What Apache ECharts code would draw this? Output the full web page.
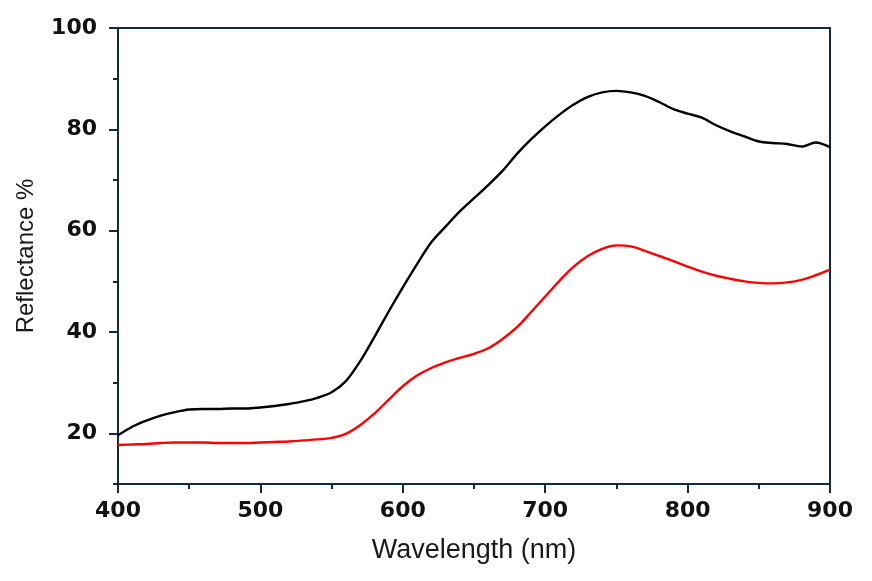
<!DOCTYPE html>
<html>
<head>
<meta charset="utf-8">
<script src="https://cdn.jsdelivr.net/npm/echarts@6/dist/echarts.min.js"></script>
<style>
  html, body { margin: 0; padding: 0; background: #fff; }
  #chart { width: 872px; height: 581px; }
</style>
</head>
<body>
<div id="chart"></div>
<script>
// wavelength samples (nm)
var wavelengths = [
  400, 410, 420, 430, 440, 450, 460, 470, 480, 490,
  500, 510, 520, 530, 540, 550, 560, 570, 580, 590,
  600, 610, 620, 630, 640, 650, 660, 670, 680, 690,
  700, 710, 720, 730, 740, 750, 760, 770, 780, 790,
  800, 810, 820, 830, 840, 850, 860, 870, 880, 890, 900
];
// black curve, reflectance %
var blackCurve = [
  19.6, 21.3, 22.5, 23.5, 24.2, 24.7, 24.8, 24.8, 24.9, 24.9,
  25.1, 25.4, 25.8, 26.3, 27.0, 28.1, 30.3, 34.2, 39.0, 44.0,
  48.8, 53.4, 57.7, 60.8, 63.8, 66.4, 69.0, 71.8, 75.1, 78.0,
  80.6, 82.9, 84.9, 86.4, 87.3, 87.6, 87.3, 86.6, 85.4, 84.0,
  83.1, 82.3, 80.8, 79.6, 78.6, 77.6, 77.3, 77.1, 76.6, 77.4, 76.5
];
// red curve, reflectance %
var redCurve = [
  17.7, 17.8, 17.9, 18.1, 18.2, 18.2, 18.2, 18.1, 18.1, 18.1,
  18.2, 18.3, 18.4, 18.6, 18.8, 19.1, 19.9, 21.6, 23.9, 26.6,
  29.3, 31.4, 32.9, 34.0, 34.9, 35.7, 36.8, 38.6, 40.9, 43.9,
  47.0, 50.1, 52.9, 55.0, 56.4, 57.1, 56.9, 56.0, 55.0, 54.0,
  52.9, 51.9, 51.1, 50.5, 50.0, 49.7, 49.6, 49.8, 50.3, 51.2, 52.3
];
var yMajor = [20, 40, 60, 80, 100];
var yMinor = [10, 30, 50, 70, 90];

function pairs(ys) {
  return wavelengths.map(function (x, i) { return [x, ys[i]]; });
}

var axisColor = '#0e2a3b';
var labelFont = {
  color: '#111',
  fontFamily: 'DejaVu Sans',
  fontWeight: 'bold',
  fontSize: 22
};

var chart = echarts.init(document.getElementById('chart'));
chart.setOption({
  backgroundColor: '#fff',
  animation: false,
  grid: {
    left: 118, right: 42, top: 28, bottom: 97,
    show: true, borderColor: axisColor, borderWidth: 2
  },
  xAxis: {
    type: 'value',
    min: 400, max: 900, interval: 100,
    name: 'Wavelength (nm)',
    nameLocation: 'middle',
    nameGap: 53,
    nameTextStyle: { fontFamily: 'Liberation Sans', fontSize: 27, color: '#1a1a1a' },
    axisLine: { lineStyle: { color: axisColor, width: 2 } },
    axisTick: { length: 9, lineStyle: { color: axisColor, width: 2 } },
    minorTick: { show: true, splitNumber: 2, length: 5, lineStyle: { color: axisColor, width: 2 } },
    splitLine: { show: false },
    axisLabel: Object.assign({ margin: 16 }, labelFont)
  },
  yAxis: [{
    type: 'value',
    min: 10, max: 100, interval: 10,
    name: 'Reflectance %',
    nameLocation: 'middle',
    nameGap: 80,
    nameTextStyle: { fontFamily: 'Liberation Sans', fontSize: 24, color: '#1a1a1a' },
    axisLine: { show: true, lineStyle: { color: axisColor, width: 2 } },
    axisTick: { show: true, length: 9, customValues: yMajor, lineStyle: { color: axisColor, width: 2 } },
    splitLine: { show: false },
    axisLabel: Object.assign({ margin: 21, customValues: yMajor }, labelFont)
  }, {
    type: 'value',
    position: 'left',
    min: 10, max: 100, interval: 10,
    axisLine: { show: false },
    axisTick: { show: true, length: 5, customValues: yMinor, lineStyle: { color: axisColor, width: 2 } },
    axisLabel: { show: false },
    splitLine: { show: false }
  }],
  series: [{
    name: 'black',
    type: 'line',
    data: pairs(blackCurve),
    smooth: 0.3,
    showSymbol: false,
    lineStyle: { color: '#000', width: 2.4 }
  }, {
    name: 'red',
    type: 'line',
    data: pairs(redCurve),
    smooth: 0.4,
    showSymbol: false,
    lineStyle: { color: '#ff0000', width: 2.4 }
  }]
});
</script>
</body>
</html>
